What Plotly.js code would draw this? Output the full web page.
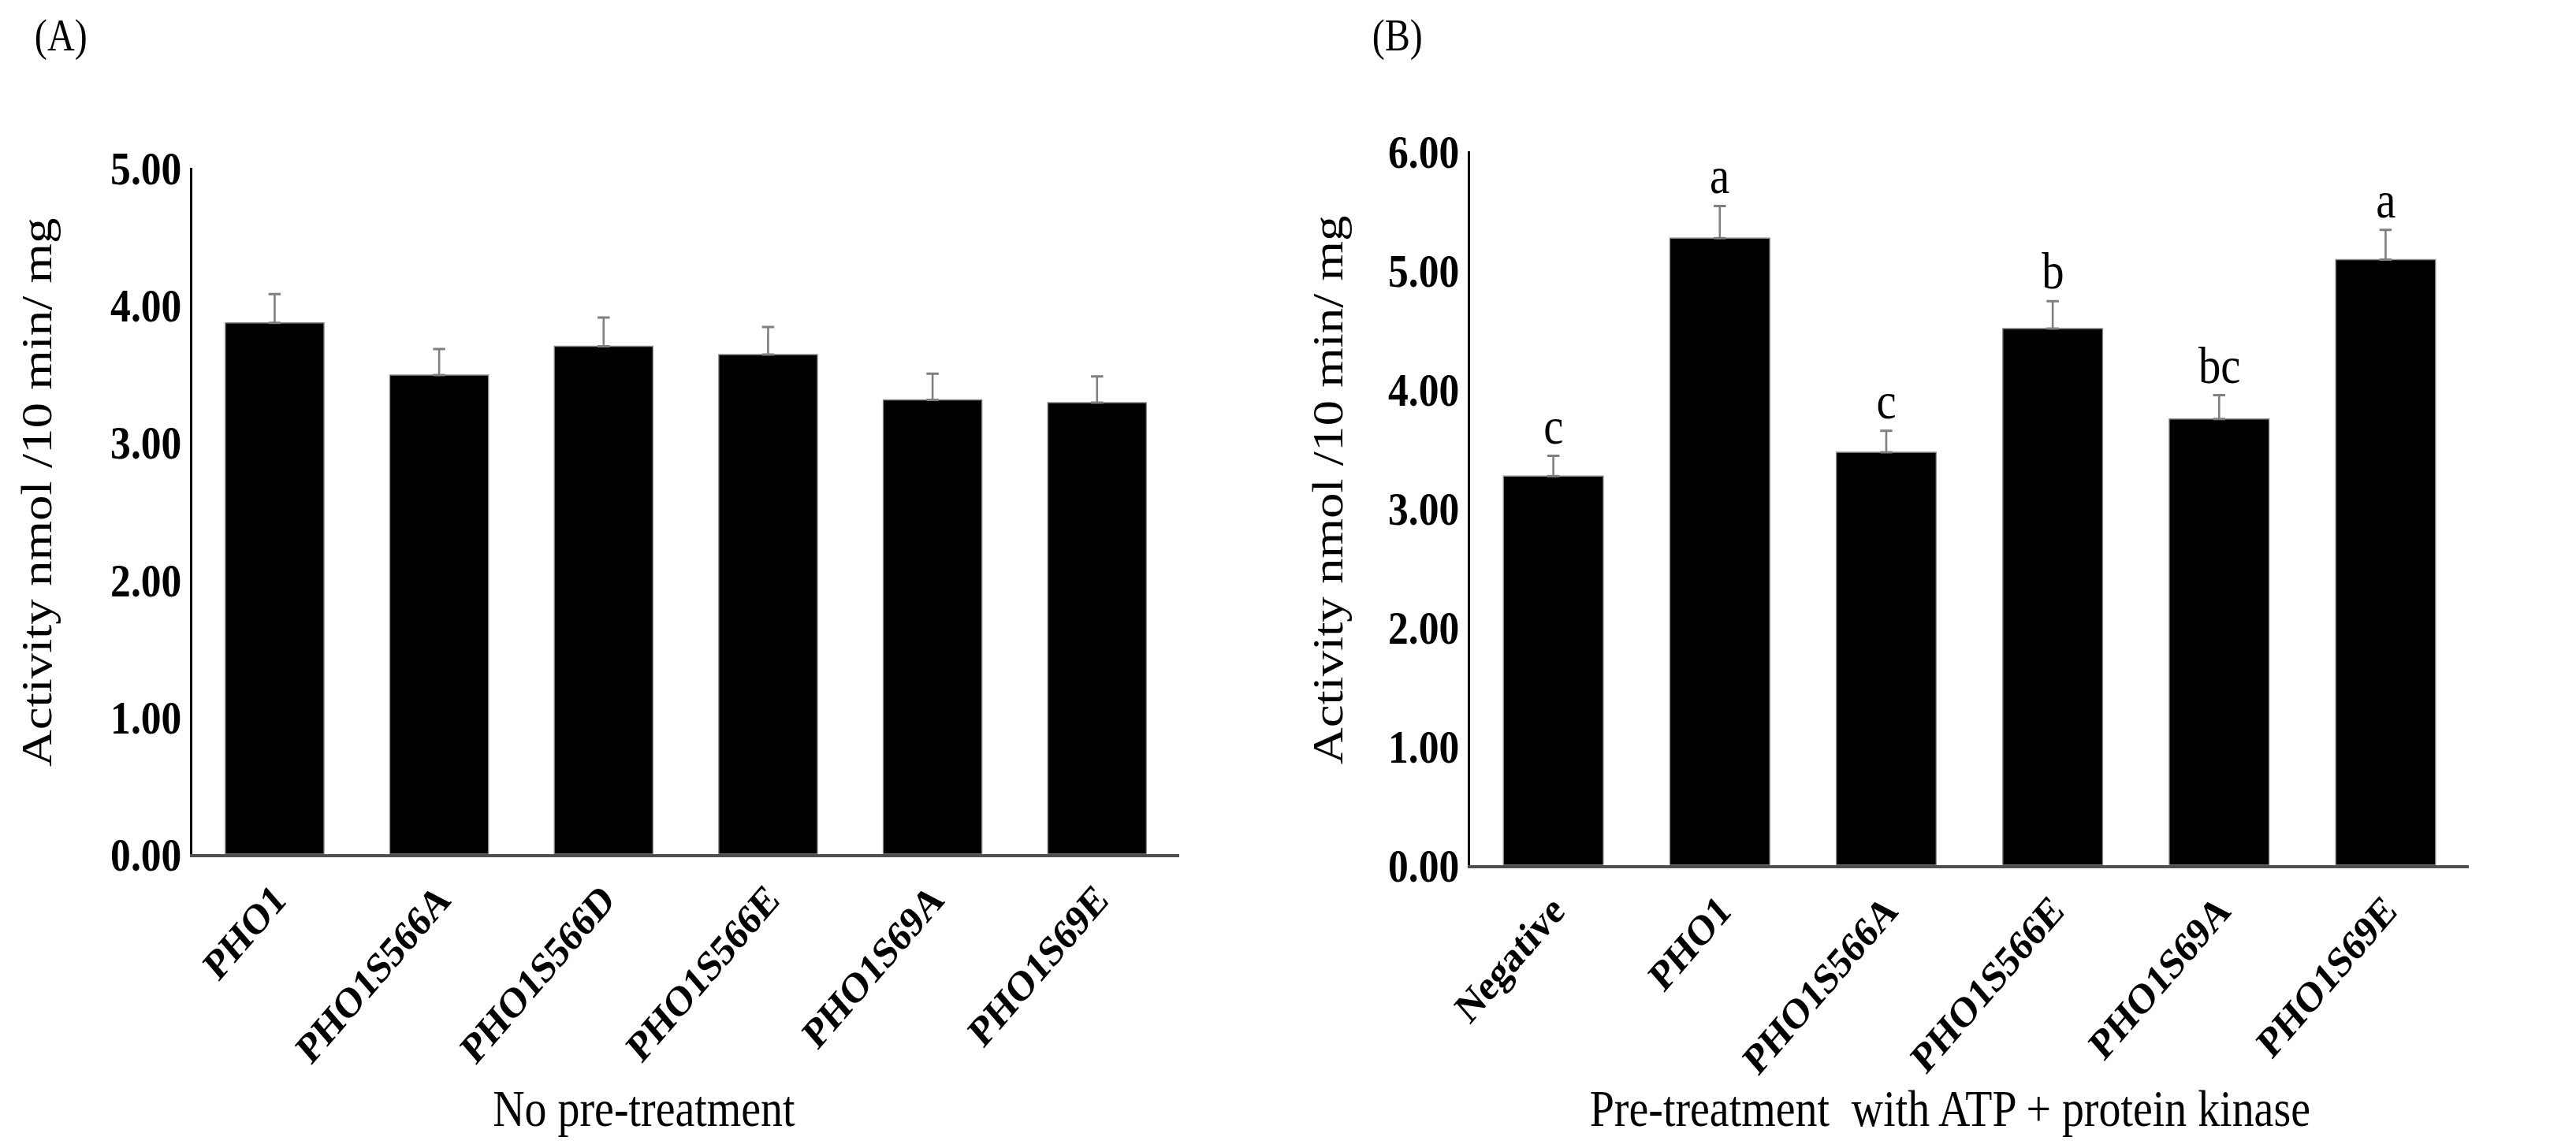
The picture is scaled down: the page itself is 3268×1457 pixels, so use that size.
<!DOCTYPE html>
<html>
<head>
<meta charset="utf-8">
<script src="https://cdn.plot.ly/plotly-3.0.1.min.js"></script>
<style>
html,body{margin:0;padding:0;background:#fff;overflow:hidden;width:3268px;height:1457px;}
#chart{width:3800px;height:1457px;transform:scaleX(0.86);transform-origin:0 0;}
</style>
</head>
<body>
<div id="chart"></div>
<script>
// Panel A data
var categoriesA = ["PHO1", "PHO1S566A", "PHO1S566D", "PHO1S566E", "PHO1S69A", "PHO1S69E"];
var valuesA = [3.87, 3.49, 3.70, 3.64, 3.31, 3.29];
var errorsA = [0.21, 0.19, 0.21, 0.20, 0.19, 0.19];

// Panel B data
var categoriesB = ["Negative", "PHO1", "PHO1S566A", "PHO1S566E", "PHO1S69A", "PHO1S69E"];
var valuesB = [3.27, 5.27, 3.47, 4.51, 3.75, 5.09];
var errorsB = [0.17, 0.27, 0.18, 0.23, 0.20, 0.25];
var lettersB = ["c", "a", "c", "b", "bc", "a"];

var ticksA = [0, 1, 2, 3, 4, 5];
var ticksB = [0, 1, 2, 3, 4, 5, 6];

var W = 3800, H = 1457;
var serif = "Liberation Serif, Times New Roman, serif";
var errStyle = {type: "data", symmetric: false, color: "#7f7f7f", thickness: 3, width: 9};

function zeros(n){ var a=[]; for(var i=0;i<n;i++) a.push(0); return a; }

var traceA = {
  type: "bar", x: categoriesA, y: valuesA, xaxis: "x", yaxis: "y",
  marker: {color: "#000000", line: {color: "#8c8c8c", width: 1.5}},
  error_y: Object.assign({array: errorsA, arrayminus: zeros(errorsA.length)}, errStyle),
  hoverinfo: "x+y"
};
var traceB = {
  type: "bar", x: categoriesB, y: valuesB, xaxis: "x2", yaxis: "y2",
  marker: {color: "#000000", line: {color: "#8c8c8c", width: 1.5}},
  error_y: Object.assign({array: errorsB, arrayminus: zeros(errorsB.length)}, errStyle),
  hoverinfo: "x+y"
};

var tickFontY = {family: serif, size: 60, color: "#000", weight: "bold"};
var tickFontX = {family: serif, size: 54, color: "#000", weight: "bold"};
var titleFont = {family: serif, size: 65, color: "#000"};

var annotations = [];
for (var i = 0; i < categoriesB.length; i++) {
  annotations.push({
    xref: "x2", yref: "y2", x: categoriesB[i], y: valuesB[i] + errorsB[i],
    text: lettersB[i], showarrow: false, yanchor: "bottom", yshift: 0,
    font: {family: serif, size: 66, color: "#000"}
  });
}
annotations.push({xref: "paper", yref: "paper", x: 0.013, y: 1 - 12/H, xanchor: "left", yanchor: "top",
  text: "(A)", showarrow: false, font: {family: serif, size: 56, color: "#000"}});
annotations.push({xref: "paper", yref: "paper", x: 0.532, y: 1 - 12/H, xanchor: "left", yanchor: "top",
  text: "(B)", showarrow: false, font: {family: serif, size: 56, color: "#000"}});
annotations.push({xref: "paper", yref: "paper", x: 0.014, y: 0.571, xanchor: "center", yanchor: "middle",
  textangle: -90, text: "Activity nmol /10 min/ mg", showarrow: false, font: titleFont});
annotations.push({xref: "paper", yref: "paper", x: 0.5153, y: 0.573, xanchor: "center", yanchor: "middle",
  textangle: -90, text: "Activity nmol /10 min/ mg", showarrow: false, font: titleFont});
annotations.push({xref: "paper", yref: "paper", x: 0.250, y: 1 - 1407/H, xanchor: "center", yanchor: "middle",
  text: "No pre-treatment", showarrow: false, font: titleFont});
annotations.push({xref: "paper", yref: "paper", x: 0.757, y: 1 - 1407/H, xanchor: "center", yanchor: "middle",
  text: "Pre-treatment  with ATP + protein kinase", showarrow: false, font: titleFont});

var layout = {
  width: W, height: H,
  margin: {l: 0, r: 0, t: 0, b: 0},
  paper_bgcolor: "#fff", plot_bgcolor: "#fff",
  showlegend: false,
  bargap: 0.4,
  xaxis: {
    domain: [0.0747, 0.4578], anchor: "y",
    showline: true, linecolor: "#505050", linewidth: 4,
    ticks: "", tickangle: -45, tickfont: tickFontX,
    showgrid: false, zeroline: false, fixedrange: true
  },
  yaxis: {
    domain: [0.256, 0.8538], anchor: "x",
    range: [0, 5], tickvals: ticksA, ticktext: ticksA.map(function(v){return v.toFixed(2);}),
    showline: true, linecolor: "#000", linewidth: 4,
    ticks: "", tickfont: tickFontY,
    showgrid: false, zeroline: false, fixedrange: true
  },
  xaxis2: {
    domain: [0.5707, 0.9584], anchor: "y2",
    showline: true, linecolor: "#505050", linewidth: 4,
    ticks: "", tickangle: -45, tickfont: tickFontX,
    showgrid: false, zeroline: false, fixedrange: true
  },
  yaxis2: {
    domain: [0.2464, 0.8682], anchor: "x2",
    range: [0, 6], tickvals: ticksB, ticktext: ticksB.map(function(v){return v.toFixed(2);}),
    showline: true, linecolor: "#000", linewidth: 4,
    ticks: "", tickfont: tickFontY,
    showgrid: false, zeroline: false, fixedrange: true
  },
  annotations: annotations
};

Plotly.newPlot("chart", [traceA, traceB], layout, {displayModeBar: false, staticPlot: true});
</script>
</body>
</html>
